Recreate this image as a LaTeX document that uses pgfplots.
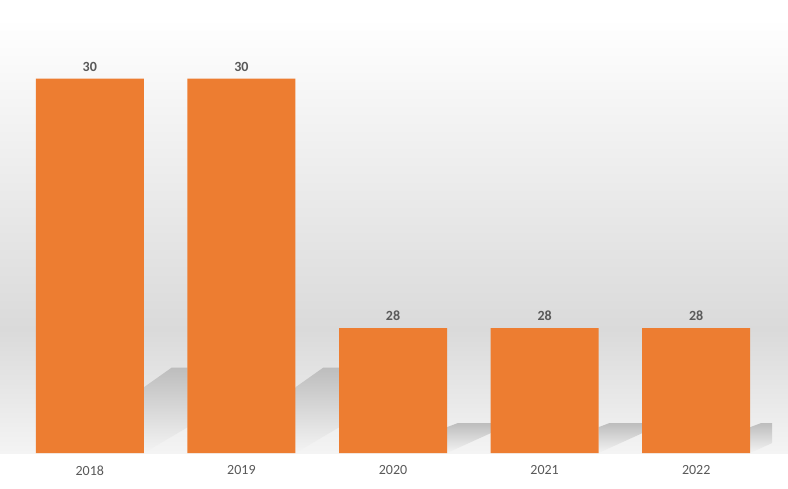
\documentclass[border=0pt]{standalone}
\usepackage{pgfplots}
\pgfplotsset{compat=1.18}
\usepackage{fontspec}
\setmainfont{Carlito}
\definecolor{barorange}{HTML}{ED7D31}
\definecolor{labgray}{HTML}{595959}
\definecolor{bgmid}{HTML}{DADADA}
\definecolor{bglow}{HTML}{F4F4F4}
\definecolor{shadowgray}{HTML}{BDBDBD}
\begin{document}
\begin{tikzpicture}[x=1pt,y=1pt]
\useasboundingbox (0,0) rectangle (788,488);
\fill[white] (0,0) rectangle (788,488);
\shade[top color=white, bottom color=bgmid] (0,158) rectangle (788,470);
\fill[white] (0,470) rectangle (788,488);
\shade[top color=bgmid, bottom color=bglow] (0,35) rectangle (788,158.5);
\begin{axis}[
  at={(14pt,35pt)}, anchor=south west,
  scale only axis, width=758pt, height=439.25pt,
  xmin=-0.5, xmax=4.5, ymin=27, ymax=30.52,
  axis line style={draw=none}, tick style={draw=none},
  ytick=\empty,
  xtick={0,1,2,3,4},
  xticklabels={2018,2019,2020,2021,2022},
  xticklabel style={font=\fontsize{14}{16}\selectfont, text=labgray, yshift=-9pt},
  /pgf/number format/assume math mode=true,
]
% shadows
\addplot[top color=shadowgray, bottom color=bglow, draw=none, forget plot] coordinates {(0.356,27) (0.356,27.526) (0.541,27.685) (0.646,27.685) (0.646,27.207)} --cycle;
\addplot[top color=shadowgray, bottom color=bglow, draw=none, forget plot] coordinates {(1.356,27) (1.356,27.526) (1.541,27.685) (1.646,27.685) (1.646,27.207)} --cycle;
\addplot[top color=shadowgray, bottom color=bglow, draw=none, forget plot] coordinates {(2.356,27) (2.356,27.207) (2.426,27.239) (2.646,27.239) (2.646,27.16)} --cycle;
\addplot[top color=shadowgray, bottom color=bglow, draw=none, forget plot] coordinates {(3.356,27) (3.356,27.207) (3.426,27.239) (3.646,27.239) (3.646,27.16)} --cycle;
\addplot[top color=shadowgray, bottom color=bglow, draw=none, forget plot] coordinates {(4.356,27) (4.356,27.207) (4.426,27.239) (4.646,27.239) (4.646,27.16)} --cycle;
% bars
\addplot[ybar, bar width=108pt, fill=barorange, draw=none,
  nodes near coords,
  every node near coord/.append style={font=\bfseries\fontsize{14}{16}\selectfont, text=labgray, yshift=4pt},
] coordinates {(0,30) (1,30) (2,28) (3,28) (4,28)};
\end{axis}
\end{tikzpicture}
\end{document}
